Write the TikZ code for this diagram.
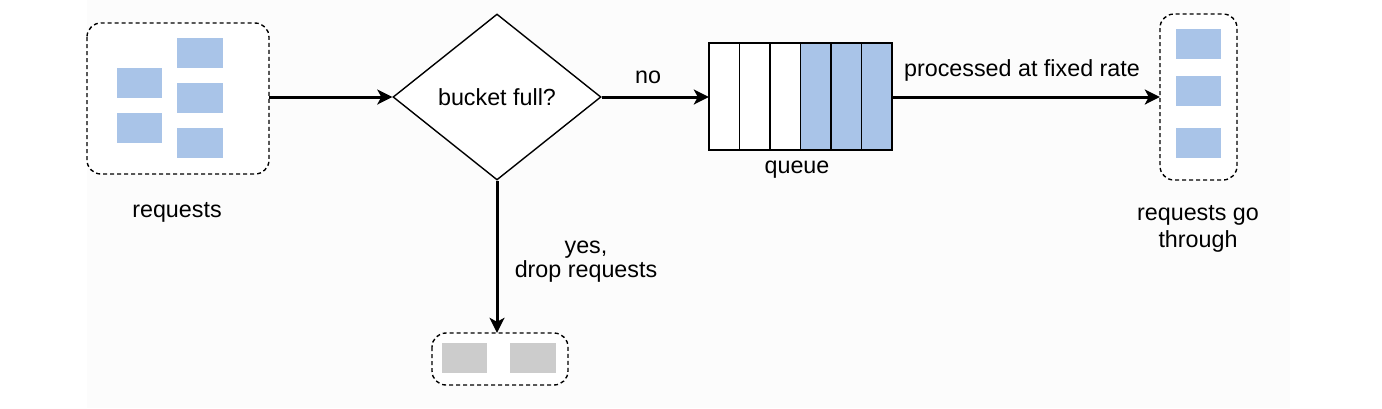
\documentclass[tikz,border=0pt]{standalone}
\usepackage{fontspec}
\setmainfont{Liberation Sans}
\usetikzlibrary{shapes.geometric,arrows.meta}
\definecolor{reqblue}{HTML}{A9C4E8}
\definecolor{dropgray}{HTML}{CCCCCC}
\definecolor{bgcol}{HTML}{FCFCFC}
\tikzset{
  every node/.style={font=\fontsize{23.3}{27}\selectfont, inner sep=0pt},
  lbl/.style={anchor=base},
  holder/.style={draw, dashed, dash pattern=on 4pt off 3pt, line width=1.4pt, rounded corners=14pt, fill=white},
  req/.style={fill=reqblue, draw=none},
  drop/.style={fill=dropgray, draw=none},
  flow/.style={line width=3pt, -{Stealth[length=15pt,width=15pt,inset=4pt]}},
  cell/.style={draw, line width=1.4pt},
}
\begin{document}
\begin{tikzpicture}[x=1pt,y=-1pt]
\useasboundingbox (0,0) rectangle (1382,408);
\fill[bgcol] (87,0) rectangle (1290,408);
% requests box
\draw[holder] (87,23) rectangle (269,174);
\node[minimum width=182pt, minimum height=151pt] (src) at (178,98.5) {};
\fill[req] (117,68) rectangle (162,98);
\fill[req] (117,113) rectangle (162,143);
\fill[req] (177,38) rectangle (223,68);
\fill[req] (177,83) rectangle (223,113);
\fill[req] (177,128) rectangle (223,158);
\node[lbl] (srclbl) at (177,217) {requests};
% diamond
\node[diamond, draw, line width=1.4pt, fill=white, minimum width=208pt, minimum height=166pt, aspect=1.25] (dec) at (497,97) {};
\node[lbl] (declbl) at (497,105) {bucket full?};
% queue
\foreach \i in {0,...,5}{
  \pgfmathsetmacro{\xa}{709+\i*30.5}
  \pgfmathsetmacro{\xb}{709+(\i+1)*30.5}
  \ifnum\i>2
    \draw[cell, fill=reqblue] (\xa,43) rectangle (\xb,150);
  \else
    \draw[cell, fill=white] (\xa,43) rectangle (\xb,150);
  \fi
}
\node[minimum width=183pt, minimum height=107pt] (queue) at (800.5,96.5) {};
\node[lbl] (qlbl) at (797,173) {queue};
% through box
\draw[holder] (1160,14) rectangle (1237,180);
\node[minimum width=77pt, minimum height=166pt] (dst) at (1198.5,97) {};
\fill[req] (1176,29) rectangle (1221,59);
\fill[req] (1176,76) rectangle (1221,106);
\fill[req] (1176,128) rectangle (1221,158);
\node[lbl] (dstlbl1) at (1198,220) {requests go};
\node[lbl] (dstlbl2) at (1198,247) {through};
% drop box
\draw[holder] (432,333) rectangle (568,385);
\node[minimum width=136pt, minimum height=52pt] (drp) at (500,359) {};
\fill[drop] (442,343) rectangle (487,373);
\fill[drop] (510,343) rectangle (556,373);
% connectors
\draw[flow] (src.east |- 0,97) -- (dec.west);
\draw[flow] (dec.east) -- (queue.west |- dec.east);
\draw[flow] (queue.east |- 0,97) -- (dst.west |- 0,97);
\draw[flow] (dec.south) -- (dec.south |- drp.north);
% labels
\node[lbl] (nolbl) at (648,83) {no};
\node[lbl] (ratelbl) at (1022,76) {processed at fixed rate};
\node[lbl] (yeslbl1) at (586,253) {yes,};
\node[lbl] (yeslbl2) at (586,277) {drop requests};
\end{tikzpicture}
\end{document}
